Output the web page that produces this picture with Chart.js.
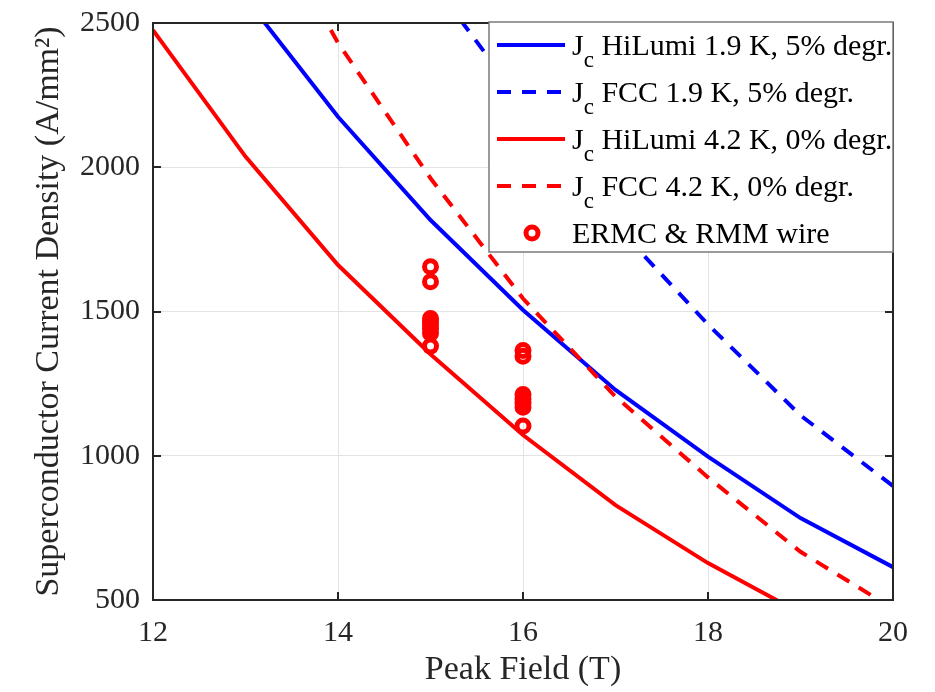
<!DOCTYPE html>
<html>
<head>
<meta charset="utf-8">
<script src="https://cdn.jsdelivr.net/npm/chart.js@4.4.1/dist/chart.umd.min.js"></script>
<style>
  body { margin: 0; background: #fff; }
  #wrap { width: 935px; height: 692px; }
</style>
</head>
<body>
<div id="wrap"><canvas id="chartCanvas" width="935" height="692"></canvas></div>
<script>
// peak field (T) and Jc curves (A/mm2)
const fields = [12, 13, 14, 15, 16, 17, 18, 19, 20];
const jcHiLumi19 = [null, 2586, 2175, 1817, 1505, 1228, 997, 784, 614];
const jcFcc19 = [null, null, null, 2650, 2220, 1800, 1455, 1140, 895];
const jcHiLumi42 = [2475, 2037, 1661, 1352, 1072, 829, 628, 455, null];
const jcFcc42 = [null, 3005, 2431, 1962, 1545, 1205, 925, 667, 470];
// measured wires
const wireField = [15, 15, 15, 15, 15, 15, 15, 15, 16, 16, 16, 16, 16, 16, 16];
const wireJc = [1655, 1603, 1476, 1465, 1452, 1440, 1425, 1380, 1365, 1345, 1212, 1198, 1183, 1168, 1103];
const xTicks = [12, 14, 16, 18, 20];
const yTicks = [500, 1000, 1500, 2000, 2500];

const serif = '"Liberation Serif", "Times New Roman", serif';
const ink = "#262626";

function pts(ys) {
  return fields.map((x, i) => ({ x: x, y: ys[i] }));
}

// MATLAB style box with inward ticks on all four sides
const axesBox = {
  id: "axesBox",
  afterDatasetsDraw(chart) {
    const { ctx, chartArea: a, scales } = chart;
    ctx.save();
    ctx.strokeStyle = ink;
    ctx.lineWidth = 2;
    ctx.beginPath();
    xTicks.forEach(v => {
      const px = Math.round(scales.x.getPixelForValue(v));
      ctx.moveTo(px, a.bottom); ctx.lineTo(px, a.bottom - 8);
      ctx.moveTo(px, a.top); ctx.lineTo(px, a.top + 8);
    });
    yTicks.forEach(v => {
      const py = Math.round(scales.y.getPixelForValue(v));
      ctx.moveTo(a.left, py); ctx.lineTo(a.left + 8, py);
      ctx.moveTo(a.right, py); ctx.lineTo(a.right - 8, py);
    });
    ctx.stroke();
    ctx.strokeRect(a.left, a.top, a.right - a.left, a.bottom - a.top);
    ctx.restore();
  }
};

// legend with subscript "c" in Jc
const jcLegend = {
  id: "jcLegend",
  afterDraw(chart) {
    const { ctx, chartArea: a } = chart;
    const w = 404, h = 230;
    const left = a.right - w, top = a.top - 1;
    ctx.save();
    ctx.fillStyle = "#fff";
    ctx.fillRect(left, top, w, h);
    ctx.strokeStyle = "#7a7a7a";
    ctx.lineWidth = 1.5;
    ctx.strokeRect(left, top, w, h);
    chart.data.datasets.forEach((ds, i) => {
      const cy = top + 23 + i * 47;
      if (ds.showLine === false) {
        ctx.beginPath();
        ctx.arc(left + 43, cy, ds.pointRadius, 0, Math.PI * 2);
        ctx.strokeStyle = ds.borderColor;
        ctx.lineWidth = ds.pointBorderWidth;
        ctx.stroke();
      } else {
        ctx.beginPath();
        ctx.setLineDash(ds.borderDash || []);
        ctx.moveTo(left + 8, cy);
        ctx.lineTo(left + 76, cy);
        ctx.strokeStyle = ds.borderColor;
        ctx.lineWidth = ds.borderWidth;
        ctx.stroke();
        ctx.setLineDash([]);
      }
      ctx.fillStyle = "#000";
      ctx.textBaseline = "alphabetic";
      let tx = left + 83;
      ctx.font = "30px " + serif;
      if (ds.jc) {
        ctx.fillText("J", tx, cy + 10);
        tx += ctx.measureText("J").width;
        ctx.font = "23px " + serif;
        ctx.fillText("c", tx, cy + 22);
        tx += ctx.measureText("c").width;
        ctx.font = "30px " + serif;
        ctx.fillText(" " + ds.label, tx, cy + 10);
      } else {
        ctx.fillText(ds.label, tx, cy + 10);
      }
    });
    ctx.restore();
  }
};

const ctx = document.getElementById("chartCanvas").getContext("2d");
new Chart(ctx, {
  type: "line",
  data: {
    datasets: [
      { label: "HiLumi 1.9 K, 5% degr.", jc: true, data: pts(jcHiLumi19), borderColor: "#0000ff", borderWidth: 4, pointRadius: 0, order: 4 },
      { label: "FCC 1.9 K, 5% degr.", jc: true, data: pts(jcFcc19), borderColor: "#0000ff", borderWidth: 4, borderDash: [14, 11], pointRadius: 0, order: 3 },
      { label: "HiLumi 4.2 K, 0% degr.", jc: true, data: pts(jcHiLumi42), borderColor: "#ff0000", borderWidth: 4, pointRadius: 0, order: 2 },
      { label: "FCC 4.2 K, 0% degr.", jc: true, data: pts(jcFcc42), borderColor: "#ff0000", borderWidth: 4, borderDash: [14, 11], pointRadius: 0, order: 1 },
      {
        label: "ERMC & RMM wire",
        data: wireField.map((x, i) => ({ x: x, y: wireJc[i] })),
        showLine: false,
        borderColor: "#ff0000",
        backgroundColor: "rgba(0,0,0,0)",
        pointRadius: 6,
        pointBorderWidth: 5,
        pointBackgroundColor: "rgba(0,0,0,0)",
        pointBorderColor: "#ff0000",
        order: 0
      }
    ]
  },
  options: {
    responsive: false,
    animation: false,
    events: [],
    layout: { padding: { top: 23, right: 42, left: 0, bottom: 0 } },
    plugins: { legend: { display: false }, tooltip: { enabled: false } },
    datasets: { line: { clip: 0, tension: 0 } },
    scales: {
      x: {
        type: "linear",
        min: 12,
        max: 20,
        afterBuildTicks: s => { s.ticks = xTicks.map(v => ({ value: v })); },
        afterFit: s => { s.height = 92; s.paddingLeft = 0; s.paddingRight = 0; },
        ticks: { font: { family: serif, size: 30 }, color: ink, padding: 15, callback: v => String(v) },
        grid: { color: "#e3e3e3", lineWidth: 1, drawTicks: false },
        border: { display: false },
        title: { display: true, text: "Peak Field (T)", font: { family: serif, size: 34 }, color: ink, padding: { top: 0, bottom: 2 } }
      },
      y: {
        type: "linear",
        min: 500,
        max: 2500,
        afterBuildTicks: s => { s.ticks = yTicks.map(v => ({ value: v })); },
        afterFit: s => { s.width = 153; s.paddingTop = 0; s.paddingBottom = 0; },
        ticks: { font: { family: serif, size: 30 }, color: ink, padding: 13, callback: v => String(v) },
        grid: { color: "#e3e3e3", lineWidth: 1, drawTicks: false },
        border: { display: false },
        title: { display: true, text: "Superconductor Current Density (A/mm²)", font: { family: serif, size: 34 }, color: ink, padding: { top: 29, bottom: 0 } }
      }
    }
  },
  plugins: [axesBox, jcLegend]
});
</script>
</body>
</html>
